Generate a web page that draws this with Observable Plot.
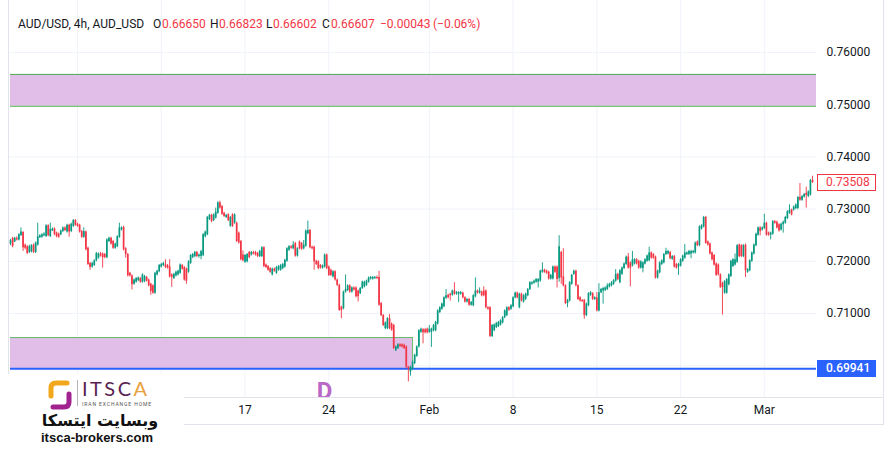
<!DOCTYPE html>
<html><head><meta charset="utf-8">
<script src="https://cdn.jsdelivr.net/npm/d3@7"></script>
<script src="https://cdn.jsdelivr.net/npm/@observablehq/plot@0.6"></script>
<style>
html,body{margin:0;padding:0;background:#fff;}
#wrap{position:relative;width:894px;height:460px;overflow:hidden;font-family:Roboto,"Open Sans",sans-serif;}
#chart{position:absolute;left:0;top:0;}
.hdr{position:absolute;top:16px;font-size:12px;line-height:16px;white-space:nowrap;color:#131722;}
.red{color:#f23645;}
.line{position:absolute;background:#e0e3eb;}
.plbl{position:absolute;left:817px;width:59px;height:17px;line-height:17px;font-size:12px;box-sizing:border-box;white-space:nowrap;}
</style>
</head><body>
<div id="wrap">
<div id="chart"></div>
</div>
<script>
// ---- data (AUD/USD 4h candles) ----
const open = [
.7233,.7244,.7237,.7244,.7241,.7249,.7255,.7231,.7228,.7217,
.7218,.7231,.7217,.7231,.7245,.7246,.7249,.7247,.7268,.7247,
.7258,.7262,.7254,.7252,.7251,.7257,.7264,.7256,.7269,.7257,
.7267,.7278,.7271,.7269,.7257,.7246,.7256,.7225,.7196,.7189,
.7192,.7201,.7206,.7214,.7214,.7213,.7207,.7238,.7244,.7238,
.7225,.7228,.7246,.7260,.7265,.7224,.7213,.7177,.7172,.7156,
.7160,.7163,.7167,.7160,.7161,.7169,.7164,.7156,.7153,.7139,
.7174,.7180,.7189,.7192,.7193,.7192,.7189,.7174,.7167,.7172,
.7174,.7177,.7192,.7188,.7185,.7179,.7196,.7207,.7209,.7217,
.7209,.7209,.7211,.7247,.7251,.7280,.7288,.7278,.7283,.7292,
.7312,.7305,.7292,.7284,.7289,.7267,.7289,.7273,.7273,.7254,
.7238,.7212,.7198,.7199,.7217,.7212,.7217,.7217,.7215,.7209,
.7209,.7226,.7193,.7190,.7186,.7174,.7185,.7177,.7183,.7183,
.7186,.7189,.7200,.7221,.7228,.7224,.7234,.7210,.7237,.7234,
.7224,.7229,.7253,.7259,.7227,.7227,.7200,.7199,.7192,.7187,
.7189,.7212,.7189,.7183,.7170,.7180,.7164,.7154,.7112,.7109,
.7141,.7144,.7153,.7141,.7149,.7149,.7143,.7138,.7148,.7151,
.7154,.7160,.7166,.7166,.7167,.7169,.7169,.7119,.7096,.7071,
.7071,.7090,.7080,.7077,.7029,.7033,.7040,.7040,.7039,.7036,
.6997,.6988,.6993,.7004,.7018,.7036,.7064,.7069,.7069,.7070,
.7064,.7064,.7067,.7067,.7080,.7102,.7108,.7113,.7129,.7135,
.7137,.7135,.7143,.7137,.7137,.7137,.7139,.7130,.7122,.7127,
.7116,.7115,.7132,.7143,.7139,.7141,.7143,.7143,.7111,.7111,
.7056,.7067,.7073,.7075,.7078,.7082,.7092,.7096,.7111,.7108,
.7113,.7130,.7139,.7111,.7137,.7122,.7127,.7134,.7146,.7156,
.7158,.7160,.7160,.7162,.7179,.7183,.7181,.7179,.7166,.7166,
.7189,.7189,.7167,.7217,.7170,.7153,.7119,.7124,.7156,.7175,
.7181,.7153,.7130,.7125,.7125,.7096,.7115,.7135,.7138,.7127,
.7130,.7105,.7140,.7143,.7144,.7146,.7151,.7153,.7156,.7162,
.7175,.7159,.7175,.7186,.7194,.7208,.7197,.7191,.7195,.7203,
.7200,.7187,.7186,.7195,.7200,.7201,.7216,.7213,.7208,.7168,
.7178,.7194,.7197,.7213,.7214,.7217,.7204,.7209,.7194,.7189,
.7191,.7200,.7206,.7213,.7213,.7214,.7216,.7216,.7237,.7230,
.7262,.7266,.7284,.7237,.7233,.7216,.7211,.7195,.7193,.7174,
.7158,.7139,.7139,.7155,.7171,.7190,.7193,.7198,.7231,.7230,
.7209,.7231,.7179,.7182,.7200,.7214,.7230,.7250,.7264,.7260,
.7263,.7273,.7254,.7250,.7252,.7276,.7275,.7270,.7260,.7270,
.7273,.7282,.7292,.7298,.7298,.7301,.7301,.7322,.7317,.7323,
.7330,.7324,.7327,.7355];
const high = [
.7242,.7246,.7246,.7247,.7253,.7264,.7257,.7233,.7230,.7231,
.7232,.7233,.7237,.7273,.7251,.7253,.7255,.7270,.7270,.7273,
.7264,.7264,.7256,.7254,.7260,.7266,.7266,.7271,.7271,.7273,
.7280,.7280,.7273,.7271,.7259,.7264,.7258,.7227,.7198,.7198,
.7203,.7217,.7216,.7217,.7216,.7215,.7243,.7246,.7246,.7240,
.7235,.7249,.7273,.7266,.7267,.7226,.7215,.7179,.7174,.7166,
.7169,.7170,.7169,.7176,.7173,.7171,.7166,.7158,.7155,.7179,
.7183,.7194,.7196,.7198,.7203,.7194,.7203,.7176,.7177,.7181,
.7183,.7195,.7194,.7190,.7187,.7201,.7213,.7215,.7219,.7219,
.7214,.7221,.7253,.7258,.7286,.7290,.7290,.7291,.7302,.7314,
.7315,.7307,.7294,.7290,.7291,.7286,.7291,.7291,.7275,.7256,
.7240,.7220,.7213,.7215,.7219,.7219,.7219,.7219,.7217,.7221,
.7228,.7228,.7195,.7192,.7188,.7187,.7187,.7190,.7192,.7194,
.7196,.7204,.7226,.7230,.7230,.7238,.7236,.7226,.7239,.7236,
.7240,.7260,.7277,.7261,.7229,.7229,.7202,.7201,.7194,.7193,
.7214,.7214,.7191,.7185,.7182,.7182,.7166,.7156,.7114,.7143,
.7174,.7155,.7155,.7151,.7151,.7151,.7145,.7150,.7162,.7162,
.7164,.7170,.7171,.7171,.7171,.7172,.7181,.7121,.7098,.7084,
.7092,.7098,.7082,.7079,.7038,.7042,.7042,.7042,.7041,.7038,
.6999,.6999,.7009,.7022,.7038,.7069,.7072,.7071,.7071,.7072,
.7077,.7072,.7079,.7085,.7107,.7113,.7120,.7132,.7146,.7137,
.7139,.7145,.7159,.7142,.7142,.7142,.7141,.7132,.7129,.7129,
.7123,.7136,.7168,.7145,.7149,.7143,.7151,.7145,.7113,.7113,
.7079,.7080,.7083,.7085,.7088,.7094,.7107,.7113,.7113,.7117,
.7132,.7141,.7141,.7139,.7139,.7136,.7139,.7148,.7161,.7161,
.7164,.7167,.7167,.7183,.7197,.7185,.7183,.7181,.7175,.7191,
.7191,.7191,.7249,.7219,.7224,.7155,.7127,.7161,.7175,.7183,
.7183,.7155,.7132,.7127,.7127,.7120,.7140,.7142,.7140,.7132,
.7140,.7157,.7148,.7150,.7151,.7157,.7158,.7161,.7165,.7184,
.7177,.7184,.7189,.7197,.7210,.7215,.7199,.7219,.7205,.7205,
.7202,.7201,.7199,.7205,.7212,.7227,.7218,.7215,.7210,.7183,
.7199,.7203,.7215,.7225,.7221,.7219,.7211,.7211,.7196,.7196,
.7205,.7212,.7232,.7218,.7221,.7221,.7221,.7237,.7239,.7268,
.7270,.7286,.7286,.7239,.7235,.7218,.7213,.7197,.7195,.7176,
.7160,.7163,.7167,.7176,.7202,.7205,.7214,.7232,.7233,.7232,
.7232,.7233,.7186,.7203,.7218,.7233,.7254,.7266,.7266,.7266,
.7290,.7275,.7256,.7256,.7278,.7278,.7277,.7272,.7273,.7277,
.7286,.7297,.7308,.7300,.7306,.7310,.7324,.7349,.7326,.7330,
.7342,.7335,.7357,.7363];
const low = [
.7230,.7226,.7236,.7239,.7239,.7248,.7219,.7222,.7213,.7215,
.7216,.7215,.7215,.7229,.7244,.7244,.7247,.7246,.7247,.7246,
.7257,.7249,.7245,.7244,.7249,.7255,.7257,.7254,.7246,.7255,
.7265,.7267,.7265,.7254,.7244,.7244,.7220,.7192,.7183,.7187,
.7190,.7199,.7204,.7208,.7187,.7205,.7205,.7236,.7231,.7223,
.7223,.7226,.7244,.7258,.7220,.7206,.7170,.7170,.7145,.7154,
.7158,.7161,.7158,.7158,.7159,.7160,.7151,.7135,.7137,.7137,
.7172,.7178,.7187,.7190,.7186,.7185,.7168,.7150,.7165,.7170,
.7172,.7175,.7183,.7162,.7156,.7177,.7194,.7205,.7207,.7207,
.7206,.7203,.7209,.7245,.7249,.7278,.7274,.7276,.7281,.7290,
.7300,.7288,.7284,.7282,.7276,.7265,.7265,.7271,.7236,.7233,
.7201,.7199,.7196,.7197,.7205,.7210,.7212,.7210,.7207,.7207,
.7207,.7188,.7186,.7181,.7177,.7172,.7179,.7175,.7181,.7181,
.7184,.7187,.7198,.7219,.7223,.7222,.7208,.7208,.7222,.7221,
.7222,.7227,.7251,.7224,.7222,.7183,.7192,.7184,.7185,.7185,
.7187,.7184,.7171,.7171,.7168,.7162,.7152,.7104,.7090,.7107,
.7139,.7142,.7139,.7139,.7143,.7130,.7122,.7136,.7146,.7149,
.7152,.7158,.7164,.7164,.7165,.7165,.7114,.7094,.7075,.7069,
.7069,.7069,.7066,.7031,.7027,.7031,.7035,.7034,.7031,.6995,
.6969,.6980,.6991,.7002,.7016,.7034,.7062,.7042,.7061,.7061,
.7062,.7035,.7065,.7065,.7078,.7100,.7106,.7111,.7127,.7128,
.7124,.7133,.7135,.7135,.7121,.7135,.7128,.7120,.7120,.7114,
.7114,.7113,.7130,.7137,.7137,.7132,.7132,.7109,.7106,.7054,
.7054,.7065,.7071,.7073,.7076,.7080,.7090,.7094,.7104,.7106,
.7111,.7128,.7128,.7109,.7122,.7120,.7125,.7132,.7144,.7154,
.7156,.7158,.7149,.7160,.7177,.7177,.7175,.7164,.7164,.7164,
.7177,.7149,.7160,.7156,.7151,.7117,.7111,.7122,.7154,.7173,
.7151,.7125,.7122,.7121,.7089,.7094,.7113,.7133,.7125,.7125,
.7103,.7103,.7138,.7118,.7142,.7144,.7149,.7151,.7154,.7160,
.7163,.7157,.7173,.7184,.7192,.7185,.7151,.7189,.7193,.7193,
.7185,.7185,.7178,.7193,.7198,.7199,.7204,.7204,.7166,.7166,
.7176,.7192,.7195,.7211,.7212,.7203,.7202,.7187,.7185,.7173,
.7189,.7198,.7204,.7211,.7211,.7205,.7214,.7214,.7228,.7228,
.7260,.7264,.7233,.7229,.7212,.7201,.7191,.7171,.7172,.7148,
.7097,.7137,.7137,.7153,.7169,.7188,.7191,.7196,.7207,.7207,
.7207,.7169,.7177,.7180,.7198,.7212,.7228,.7248,.7249,.7258,
.7261,.7248,.7248,.7241,.7250,.7271,.7262,.7256,.7258,.7254,
.7271,.7280,.7290,.7287,.7296,.7299,.7299,.7315,.7315,.7321,
.7302,.7322,.7325,.7349];
const close = [
.7240,.7228,.7244,.7241,.7251,.7256,.7226,.7225,.7215,.7228,
.7230,.7217,.7235,.7247,.7249,.7251,.7252,.7268,.7249,.7261,
.7262,.7251,.7247,.7246,.7258,.7264,.7259,.7269,.7256,.7271,
.7278,.7269,.7267,.7256,.7246,.7257,.7222,.7194,.7188,.7196,
.7201,.7215,.7214,.7210,.7207,.7207,.7241,.7244,.7233,.7225,
.7233,.7247,.7264,.7264,.7222,.7213,.7172,.7172,.7155,.7164,
.7167,.7168,.7160,.7174,.7171,.7162,.7153,.7142,.7139,.7177,
.7181,.7192,.7194,.7196,.7188,.7187,.7170,.7169,.7175,.7179,
.7181,.7193,.7185,.7164,.7162,.7199,.7211,.7213,.7217,.7209,
.7212,.7219,.7251,.7256,.7284,.7288,.7276,.7289,.7294,.7312,
.7302,.7290,.7286,.7288,.7278,.7284,.7267,.7289,.7238,.7235,
.7203,.7201,.7211,.7213,.7207,.7217,.7214,.7212,.7209,.7219,
.7226,.7190,.7188,.7183,.7179,.7185,.7181,.7188,.7190,.7192,
.7194,.7202,.7224,.7228,.7225,.7231,.7210,.7224,.7224,.7223,
.7231,.7258,.7259,.7226,.7224,.7199,.7194,.7186,.7187,.7191,
.7212,.7186,.7173,.7173,.7180,.7164,.7154,.7106,.7106,.7141,
.7146,.7153,.7141,.7149,.7145,.7132,.7132,.7148,.7160,.7160,
.7162,.7168,.7169,.7169,.7169,.7167,.7116,.7096,.7077,.7082,
.7090,.7071,.7068,.7033,.7036,.7040,.7037,.7036,.7033,.6997,
.6993,.6997,.7007,.7020,.7036,.7067,.7070,.7063,.7063,.7063,
.7070,.7070,.7077,.7083,.7105,.7111,.7118,.7130,.7134,.7130,
.7134,.7143,.7137,.7140,.7140,.7140,.7130,.7122,.7127,.7116,
.7121,.7134,.7143,.7139,.7143,.7134,.7134,.7111,.7108,.7056,
.7077,.7078,.7081,.7083,.7086,.7092,.7105,.7111,.7106,.7115,
.7130,.7139,.7130,.7137,.7124,.7134,.7137,.7146,.7159,.7159,
.7162,.7165,.7165,.7181,.7183,.7179,.7177,.7166,.7173,.7189,
.7179,.7165,.7228,.7168,.7153,.7119,.7125,.7159,.7173,.7181,
.7153,.7127,.7124,.7123,.7096,.7118,.7138,.7140,.7127,.7130,
.7105,.7140,.7146,.7148,.7149,.7153,.7156,.7159,.7163,.7175,
.7165,.7182,.7187,.7195,.7208,.7187,.7187,.7203,.7203,.7195,
.7187,.7199,.7197,.7203,.7210,.7216,.7206,.7206,.7168,.7181,
.7197,.7201,.7213,.7219,.7219,.7205,.7209,.7189,.7187,.7194,
.7203,.7210,.7216,.7216,.7219,.7219,.7219,.7235,.7230,.7266,
.7268,.7284,.7234,.7231,.7214,.7203,.7193,.7173,.7174,.7150,
.7150,.7161,.7165,.7174,.7200,.7203,.7203,.7230,.7209,.7209,
.7230,.7182,.7184,.7201,.7216,.7231,.7252,.7264,.7257,.7264,
.7273,.7250,.7250,.7254,.7276,.7273,.7264,.7258,.7271,.7275,
.7284,.7295,.7298,.7289,.7304,.7308,.7322,.7317,.7324,.7328,
.7326,.7333,.7355,.73508];

const priceTicks = [0.70, 0.71, 0.72, 0.73, 0.74, 0.75, 0.76];
// 0.70000 label is hidden by the 0.69941 price tag in the reference
const priceLabelTicks = [0.71, 0.72, 0.73, 0.74, 0.75, 0.76];
const timeTickBars = [32, 72, 112, 152, 200, 240, 280, 320, 360];
const timeTickLabels = ["3", "10", "17", "24", "Feb", "8", "15", "22", "Mar"];
// the first two labels sit under the logo in the reference
const visibleTimeTickBars = [112, 152, 200, 240, 280, 320, 360];

const zoneHigh = [0.7558, 0.7054];
const zoneLow = [0.7497, 0.69941];
const zoneEndBar = [null, 192];
const supportLevel = 0.69941;
const lastPrice = 0.73508;
const markerBar = [150];
const markerText = ["D"];

const header = {
  title: "AUD/USD, 4h, AUD_USD",
  o: "0.66650", h: "0.66823", l: "0.66602", c: "0.66607",
  chg: "−0.00043", pct: "(−0.06%)"
};

// ---- build ----
const UP = "#089981", DOWN = "#f23645", GRID = "#f0f3fa";
const X_MIN = -0.96, X_MAX = 384.9;
const candles = open.map((o, i) => ({i, o, h: high[i], l: low[i], c: close[i]}));
const up = candles.filter(d => d.c >= d.o);
const down = candles.filter(d => d.c < d.o);
const zones = zoneHigh.map((hi, k) => ({hi, lo: zoneLow[k], x1: 0, x2: zoneEndBar[k] == null ? X_MAX : zoneEndBar[k]}));
const topZone = zones[0], lowZone = zones[1];
const labelMap = new Map(timeTickBars.map((b, k) => [b, timeTickLabels[k]]));

const chart = Plot.plot({
  width: 894, height: 425,
  marginLeft: 8, marginRight: 78, marginTop: 0, marginBottom: 28,
  style: {fontFamily: "Roboto, sans-serif", fontSize: "12px", color: "#131722", background: "transparent", overflow: "visible"},
  x: {type: "linear", domain: [X_MIN, X_MAX], axis: null},
  y: {type: "linear", domain: [0.69391, 0.76996], axis: null},
  marks: [
    Plot.ruleY(priceTicks, {stroke: GRID, strokeWidth: 1}),
    Plot.ruleX(timeTickBars, {stroke: GRID, strokeWidth: 1}),
    Plot.rect(zones, {x1: "x1", x2: "x2", y1: "lo", y2: "hi", fill: "#e1bee7"}),
    Plot.ruleY([topZone.hi, topZone.lo], {x1: topZone.x1, x2: topZone.x2, stroke: "#4caf50", strokeWidth: 1}),
    Plot.ruleY([lowZone.hi], {x1: lowZone.x1, x2: lowZone.x2, stroke: "#66bb6a", strokeWidth: 1}),
    Plot.ruleX([lowZone.x2], {y1: lowZone.lo, y2: lowZone.hi, stroke: "#66bb6a", strokeWidth: 1}),
    Plot.ruleY([supportLevel], {x1: 0, x2: X_MAX, stroke: "#2962ff", strokeWidth: 2}),
    Plot.ruleX(up, {x: "i", y1: "l", y2: "h", stroke: UP, strokeWidth: 0.9}),
    Plot.ruleX(down, {x: "i", y1: "l", y2: "h", stroke: DOWN, strokeWidth: 0.9}),
    Plot.ruleX(up, {x: "i", y1: "o", y2: "c", stroke: UP, strokeWidth: 1.7}),
    Plot.ruleX(down, {x: "i", y1: "o", y2: "c", stroke: DOWN, strokeWidth: 1.7}),
    Plot.text(markerBar, {x: d => d, text: (d, k) => markerText[k], frameAnchor: "bottom", lineAnchor: "top", dy: -16,
      fontSize: 24, fontWeight: "bold", fill: "#ba68c8", clip: true}),
    Plot.axisY(priceLabelTicks, {anchor: "right", tickSize: 0, tickPadding: 10, tickFormat: d => d.toFixed(5), label: null, fill: "#131722"}),
    Plot.axisX(visibleTimeTickBars, {anchor: "bottom", tickSize: 0, tickPadding: 8, tickFormat: d => labelMap.get(d), label: null, fill: "#131722"})
  ]
});
document.getElementById("chart").appendChild(chart);

const wrap = document.getElementById("wrap");
function add(html) { wrap.insertAdjacentHTML("beforeend", html); }

// frame lines
add('<div class="line" style="left:8px;top:0;width:1px;height:397px"></div>');
add('<div class="line" style="left:0;top:397px;width:883px;height:1px"></div>');
add('<div class="line" style="left:0;top:424px;width:883px;height:1px"></div>');
add('<div class="line" style="left:883px;top:0;width:1px;height:425px"></div>');

// header
add(`<div class="hdr" style="left:18px">${header.title}</div>`);
add(`<div class="hdr" style="left:153px">O</div><div class="hdr red" style="left:162px">${header.o}</div>`);
add(`<div class="hdr" style="left:210px">H</div><div class="hdr red" style="left:219px">${header.h}</div>`);
add(`<div class="hdr" style="left:266px">L</div><div class="hdr red" style="left:273px">${header.l}</div>`);
add(`<div class="hdr" style="left:322px">C</div><div class="hdr red" style="left:331px">${header.c}</div>`);
add(`<div class="hdr red" style="left:380px">${header.chg}</div>`);
add(`<div class="hdr red" style="left:433px">${header.pct}</div>`);

// price labels on the axis, placed through the y scale
const ys = chart.scale("y");
const yLast = ys.apply(lastPrice), ySup = ys.apply(supportLevel);
add(`<div class="plbl" style="top:${yLast - 8.5}px;border:1px solid #f23645;background:#fff;color:#f23645;padding-left:8px;line-height:15px">${lastPrice.toFixed(5)}</div>`);
add(`<div class="plbl" style="top:${ySup - 8.5}px;background:#2962ff;color:#fff;padding-left:9px;font-weight:500">${supportLevel.toFixed(5)}</div>`);

// logo block
add(`<div style="position:absolute;left:0;top:374px;width:184px;height:86px;background:#fff">
  <svg style="position:absolute;left:45px;top:5px" width="30" height="32" viewBox="0 0 30 32">
    <path d="M22 4 L11 4 Q6 4 6 9 L6 17" fill="none" stroke="#f2a81d" stroke-width="5" stroke-linecap="round"/>
    <path d="M8 28 L19 28 Q24 28 24 23 L24 15" fill="none" stroke="#a1238f" stroke-width="5" stroke-linecap="round"/>
  </svg>
  <div style="position:absolute;left:77px;top:6px;width:1px;height:26px;background:#b5b5b5"></div>
  <div style="position:absolute;left:82px;top:4px;font:20px/20px Lato,sans-serif;letter-spacing:2.5px;color:#5a1f52">ITSC<span style="color:#e9a23b">A</span></div>
  <div style="position:absolute;left:82px;top:27px;font:5px/6px Roboto,sans-serif;letter-spacing:0.9px;color:#555">IRAN EXCHANGE HOME</div>
  <div dir="rtl" style="position:absolute;left:0;width:200px;top:37px;text-align:center;font:bold 16px/20px 'DejaVu Sans',sans-serif;color:#111">وبسایت ایتسکا</div>
  <div style="position:absolute;left:0;width:194px;top:56px;text-align:center;font:bold 13px/15px 'Liberation Sans',Arial,sans-serif;color:#111">itsca-brokers.com</div>
</div>`);
</script>
</body></html>
